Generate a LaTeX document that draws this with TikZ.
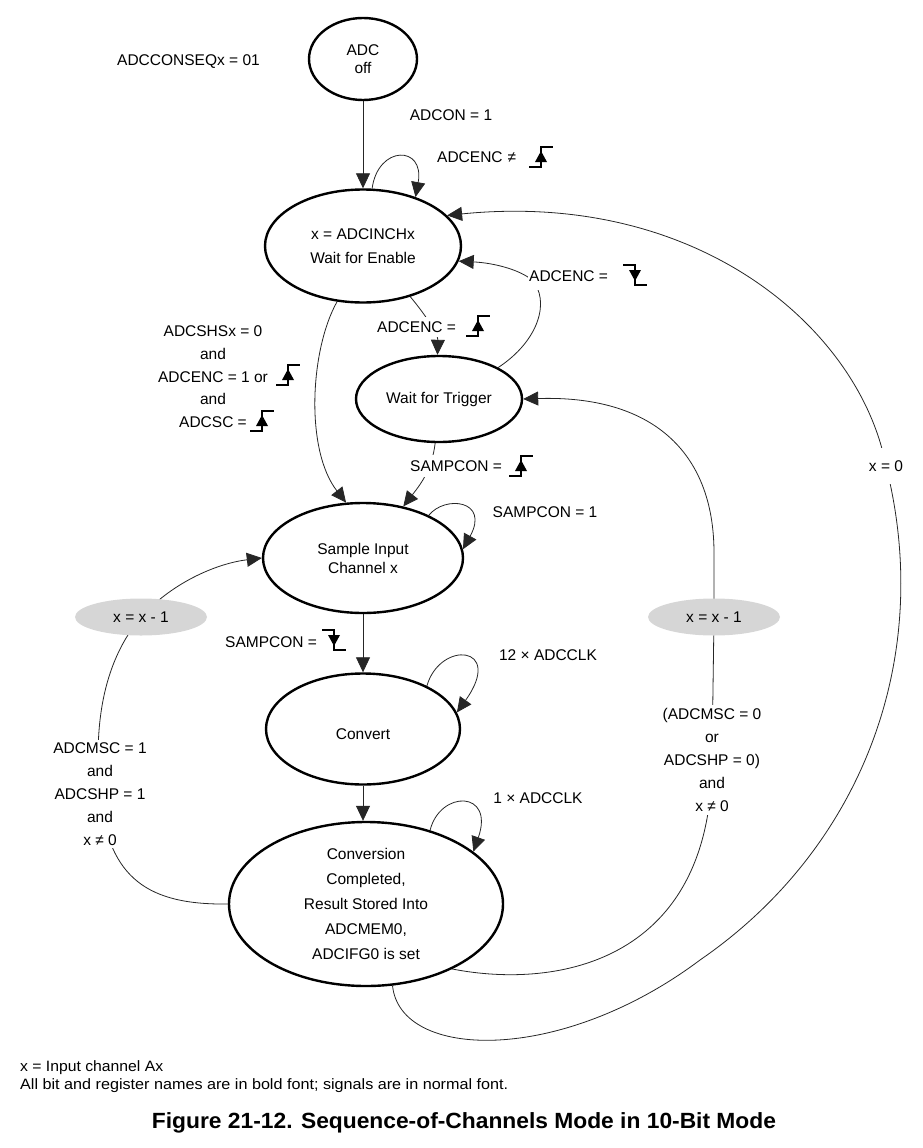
\documentclass[tikz,border=0pt]{standalone}
\usepackage{fontspec}
\setmainfont{Liberation Sans}
\usepackage{graphicx}
\usetikzlibrary{shapes.geometric,arrows.meta}
\pgfdeclarelayer{bg}
\pgfsetlayers{bg,main}
\tikzset{
  stnode/.style={draw, ellipse, line width=2.4pt, inner sep=0pt, align=center},
  lbl/.style={inner sep=1pt, align=center, font=\fontsize{15.5}{23}\selectfont},
  cover/.style={fill=white},
  grayop/.style={ellipse, fill=black!16, inner sep=0pt, minimum width=132pt, minimum height=37pt, font=\fontsize{15.5}{18}\selectfont},
  conn/.style={line width=0.8pt, black!85},
  arr/.style={conn, -{Triangle[length=15pt,width=14pt]}},
  symline/.style={line width=1.3pt, line cap=butt},
  risesym/.pic={\draw[symline] (-12,10) -- (0,10) -- (0,-10) -- (12,-10);
                \fill (-6,5) -- (6,5) -- (0,-6) -- cycle;},
  fallsym/.pic={\draw[symline] (-12,-10) -- (0,-10) -- (0,10) -- (12,10);
                \fill (-6,-5) -- (6,-5) -- (0,6) -- cycle;},
}
\begin{document}
\begin{tikzpicture}[x=1pt,y=-1pt]
\useasboundingbox (0,0) rectangle (922,1148);

% states
\node[stnode, minimum width=108pt, minimum height=82pt, font=\fontsize{15.5}{18}\selectfont] (adc) at (363,59) {ADC\\off};
\node[stnode, minimum width=196pt, minimum height=113pt, font=\fontsize{15.5}{24}\selectfont] (ena) at (363,246) {x = ADCINCHx\\Wait for Enable};
\node[stnode, minimum width=166pt, minimum height=86pt, font=\fontsize{15.5}{19}\selectfont] (trg) at (439,399) {Wait for Trigger};
\node[stnode, minimum width=200pt, minimum height=110pt, font=\fontsize{15.5}{19}\selectfont] (smp) at (363,558) {Sample Input\\Channel x};
\node[stnode, minimum width=194pt, minimum height=111pt, font=\fontsize{15.5}{19}\selectfont] (cnv) at (363,729) {\raisebox{-5pt}[11pt][0pt]{Convert}};
\node[stnode, minimum width=274pt, minimum height=164pt, font=\fontsize{15.5}{25}\selectfont] (cc) at (366,904) {Conversion\\Completed,\\Result Stored Into\\ADCMEM0,\\ADCIFG0 is set};

% labels
\node[lbl, anchor=west] (l0) at (116,62) {ADCCONSEQx = 01};
\node[lbl] (l1) at (451,115) {ADCON = 1};
\node[lbl, anchor=west] (l2) at (436,157) {ADCENC\hspace{5pt}≠};
\pic at (541,157) {risesym};
\node[lbl, anchor=west, cover, minimum height=28pt] (l3) at (528,276) {ADCENC =};
\pic at (635,275) {fallsym};
\node[lbl, anchor=west, cover, minimum height=20pt] (l4) at (376,327) {ADCENC =};
\pic at (478,326) {risesym};
\node[lbl, anchor=west, cover, minimum height=22pt] (l5) at (409,466) {SAMPCON =};
\pic at (521,466) {risesym};

\node[lbl] (a1) at (213,331) {ADCSHSx = 0};
\node[lbl] (a2) at (213,354) {and};
\node[lbl] (a3) at (213,377) {ADCENC = 1 or};
\pic at (288,375) {risesym};
\node[lbl] (a4) at (213,399) {and};
\node[lbl] (a5) at (213,422) {ADCSC =};
\pic at (262,421) {risesym};

\node[lbl] (l6) at (545,512) {SAMPCON = 1};
\node[lbl, anchor=west] (l7) at (224,642) {SAMPCON =};
\pic at (334,640) {fallsym};
\node[lbl] (l8) at (548,655) {12 × ADCCLK};
\node[lbl] (l9) at (538,798) {1 × ADCCLK};

\node[lbl, cover, inner sep=3pt] (llab) at (100,794) {ADCMSC = 1\\and\\ADCSHP = 1\\and\\x ≠ 0};
\node[lbl, cover, inner sep=3pt] (rlab) at (712,760) {(ADCMSC = 0\\or\\ADCSHP = 0)\\and\\x ≠ 0};
\node[lbl, cover, inner sep=3pt, minimum height=36pt] (x0) at (886,466) {x = 0};

\node[grayop] (lg) at (141,617) {x = x - 1};
\node[grayop] (rg) at (714,617) {x = x - 1};

% notes and caption
\node[anchor=west, inner sep=0pt] (f1) at (20,1068) {\resizebox{143pt}{\height}{\fontsize{15}{15}\selectfont x = Input channel Ax}};
\node[anchor=west, inner sep=0pt] (f2) at (20,1086) {\resizebox{488pt}{\height}{\fontsize{15}{15}\selectfont All bit and register names are in bold font; signals are in normal font.}};
\node[inner sep=0pt] (cap) at (464,1123) {\resizebox{624pt}{\height}{\fontsize{22}{22}\selectfont\bfseries Figure 21-12. Sequence-of-Channels Mode in 10-Bit Mode}};

% connectors
\begin{pgfonlayer}{bg}
\draw[arr] (adc.south) -- (ena.north);
\draw[arr] (ena.81) .. controls (378,145) and (425,145) .. (ena.43);
\draw[arr] (cc.-72) .. controls (400,1060) and (560,1065) .. (700,960)
   .. controls (860,850) and (935,660) .. (x0.center)
   .. controls (860,330) and (700,190) .. (ena.20);
\draw[arr] (trg.28) .. controls (540,340) and (550,300) .. (532,280)
   .. controls (520,270) and (495,263) .. (ena.-9);
\draw[arr] (ena.-47) .. controls (428,318) and (438,335) .. (trg.92);
\draw[arr] (trg.-95) .. controls (432,470) and (420,485) .. (smp.52);
\draw[arr] (ena.-115) .. controls (310,350) and (305,450) .. (smp.107);
\draw[arr] (smp.33) .. controls (445,495) and (490,500) .. (smp.5);
\draw[arr] (smp.south) -- (cnv.north);
\draw[arr] (cnv.34) .. controls (440,640) and (505,645) .. (cnv.10);
\draw[arr] (cnv.south) -- (cnv.south |- cc.north);
\draw[arr] (cc.49) .. controls (440,790) and (495,790) .. (cc.26);
\draw[arr] (cc.west) .. controls (150,905) and (108,880) .. (llab.center)
   .. controls (93,720) and (105,660) .. (lg.center)
   .. controls (175,580) and (220,563) .. (smp.west);
\draw[arr] (cc.-37) .. controls (560,990) and (712,960) .. (rlab.center)
   -- (rg.center) -- ++(0,-64) .. controls (714,450) and (650,395) .. (trg.east);
\end{pgfonlayer}
\end{tikzpicture}
\end{document}
